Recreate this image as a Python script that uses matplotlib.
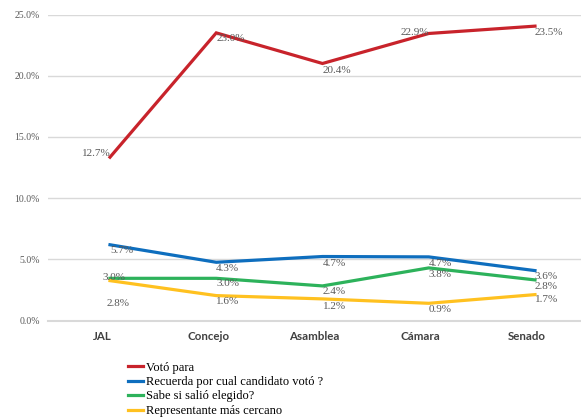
import matplotlib
matplotlib.use("Agg")
import matplotlib.pyplot as plt
import matplotlib.transforms as mtransforms
import numpy as np

# categories and series (line heights, in %)
categories = ["JAL", "Concejo", "Asamblea", "Cámara", "Senado"]
voto_para = [13.35, 23.5, 21.0, 23.45, 24.05]
recuerda = [6.2, 4.77, 5.24, 5.21, 4.09]
sabe_elegido = [3.46, 3.46, 2.84, 4.31, 3.33]
representante = [3.27, 2.05, 1.78, 1.42, 2.13]

# values printed as data labels
voto_para_lbl = [12.7, 23.0, 20.4, 22.9, 23.5]
recuerda_lbl = [5.7, 4.3, 4.7, 4.7, 3.6]
sabe_elegido_lbl = [3.0, 3.0, 2.4, 3.8, 2.8]
representante_lbl = [2.8, 1.6, 1.2, 0.9, 1.7]

series_names = ["Votó para", "Recuerda por cual candidato votó ?",
                "Sabe si salió elegido?", "Representante más cercano"]
colors = ["#C8232B", "#0E6EBE", "#2DB25B", "#FFC120"]

yticks = [0, 5, 10, 15, 20, 25]

fig = plt.figure(figsize=(5.81, 4.20), dpi=100)
ax = fig.add_axes([48/581, 1 - 320.7/420, 533/581, 306.2/420])

x = np.arange(len(categories))
series = [voto_para, recuerda, sabe_elegido, representante]
labels = [voto_para_lbl, recuerda_lbl, sabe_elegido_lbl, representante_lbl]

lines = []
for vals, c in zip(series, colors):
    ln, = ax.plot(x, vals, color=c, lw=2.3, solid_joinstyle="miter", zorder=3)
    lines.append(ln)

# data labels sit at the labelled value, left-aligned at the category;
# a few were nudged by hand in the original
special = {(0, 0): dict(ha="right", dx=1, dy=12),
           (0, 3): dict(ha="right", dx=0, dy=8),
           (2, 0): dict(ha="left", dx=-7, dy=6),
           (3, 0): dict(ha="left", dx=-3, dy=-17)}
for si, lbls in enumerate(labels):
    for i, v in enumerate(lbls):
        opt = special.get((si, i), dict(ha="left", dx=0, dy=0))
        ax.annotate(f"{v:.1f}%", (x[i], v), xytext=(opt["dx"], opt["dy"]),
                    textcoords="offset pixels", ha=opt["ha"], va="center",
                    fontsize=8, family="Liberation Serif", color="#595959",
                    zorder=4)

ax.set_xlim(-0.5835, 4.433)
ax.set_ylim(0, 25)
ax.set_yticks(yticks)
ax.set_yticklabels([f"{t:.1f}%" for t in yticks], family="Liberation Serif",
                   fontsize=7, color="#595959")
ax.set_xticks(x)
ax.set_xticklabels(categories, family="Lato", fontweight="bold",
                   fontsize=8.3, color="#404040")
ax.tick_params(axis="both", length=0)
ax.tick_params(axis="x", pad=7.5)
ax.tick_params(axis="y", pad=6)
# category names sit a little left of their points in the original
shift = mtransforms.ScaledTranslation(-8/100, 0, fig.dpi_scale_trans)
for lab in ax.get_xticklabels():
    lab.set_transform(lab.get_transform() + shift)

ax.yaxis.grid(True, color="#D9D9D9", lw=1)
ax.set_axisbelow(True)
for s in ["top", "right", "left"]:
    ax.spines[s].set_visible(False)
ax.spines["bottom"].set_color("#D9D9D9")
ax.spines["bottom"].set_linewidth(1.5)

leg = fig.legend(lines, series_names, loc="upper left",
                 bbox_to_anchor=(128/581, 1 - 361.5/420), frameon=False,
                 prop={"family": "Liberation Serif", "size": 9},
                 handlelength=1.2, handletextpad=0.25, labelspacing=0.2,
                 borderaxespad=0, borderpad=0)

fig.savefig("out.png", dpi=100)
